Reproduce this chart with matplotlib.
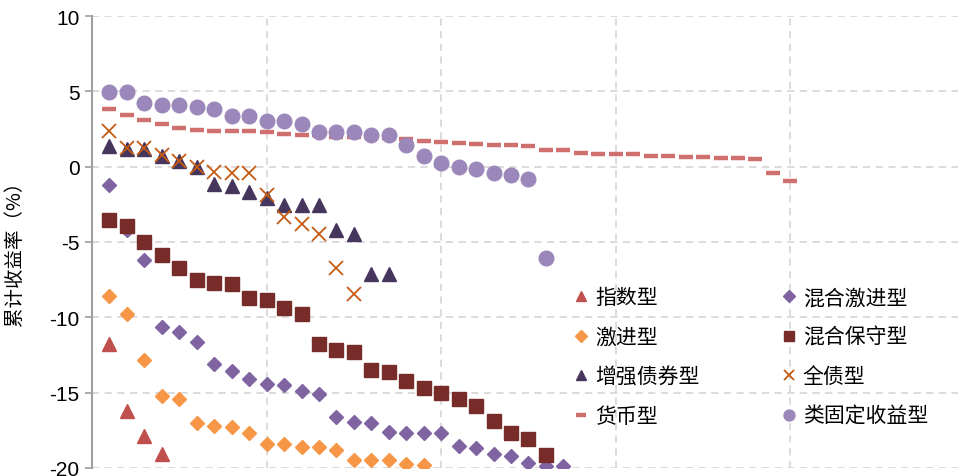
import matplotlib
matplotlib.use('Agg')
from matplotlib import pyplot as plt

plt.rcParams['font.family'] = ['Noto Sans CJK SC', 'DejaVu Sans']

# cumulative return (%) of each fund, ranked within its type
zhishu = [-11.75, -16.2, -17.9, -19.1]
hunhe_jj = [-1.2, -4.2, -6.2, -10.65, -11.0, -11.65, -13.1, -13.55, -14.1, -14.45,
            -14.5, -14.9, -15.1, -16.6, -16.95, -17.0, -17.6, -17.65, -17.65, -17.7,
            -18.55, -18.7, -19.05, -19.2, -19.7, -19.9, -19.9]
jijin = [-8.6, -9.8, -12.85, -15.2, -15.4, -17.0, -17.2, -17.3, -17.7, -18.4,
         -18.4, -18.6, -18.6, -18.8, -19.5, -19.5, -19.45, -19.75, -19.8]
hunhe_bs = [-3.55, -3.95, -5.0, -5.85, -6.7, -7.5, -7.75, -7.8, -8.7, -8.85,
            -9.4, -9.8, -11.75, -12.2, -12.3, -13.5, -13.6, -14.2, -14.7, -15.05,
            -15.45, -15.9, -16.9, -17.7, -18.05, -19.15]
zengqiang = [1.4, 1.15, 1.15, 0.7, 0.4, 0.0, -1.15, -1.25, -1.65, -2.1,
             -2.55, -2.55, -2.55, -4.2, -4.5, -7.1, -7.1]
quanzhai = [2.35, 1.25, 1.25, 0.8, 0.4, 0.0, -0.35, -0.4, -0.4, -1.85,
            -3.35, -3.8, -4.5, -6.7, -8.45]
huobi = [3.8, 3.4, 3.1, 2.85, 2.55, 2.45, 2.35, 2.35, 2.35, 2.3,
         2.2, 2.1, 2.1, 2.0, 1.97, 1.95, 1.9, 1.86, 1.68, 1.61,
         1.57, 1.53, 1.46, 1.46, 1.39, 1.13, 1.08, 0.88, 0.86, 0.86,
         0.84, 0.74, 0.69, 0.66, 0.64, 0.57, 0.57, 0.49, -0.42, -0.97]
leigu = [4.95, 4.95, 4.25, 4.1, 4.07, 3.95, 3.85, 3.36, 3.36, 3.05,
         3.05, 2.8, 2.3, 2.3, 2.3, 2.12, 2.08, 1.41, 0.73, 0.22,
         -0.03, -0.16, -0.42, -0.52, -0.83, -6.03]

yticks = [10, 5, 0, -5, -10, -15, -20]

series = [
    ('指数型', zhishu, '^', 10.5, '#C0504D', 1),
    ('混合激进型', hunhe_jj, 'D', 7.5, '#8064A2', 1),
    ('激进型', jijin, 'D', 7.5, '#F79646', 1),
    ('混合保守型', hunhe_bs, 's', 10, '#772C2A', 1),
    ('增强债券型', zengqiang, '^', 10.5, '#46365E', 1),
    ('全债型', quanzhai, 'x', 9.5, '#C55A11', 1.3),
    ('货币型', huobi, '_', 10.5, '#D0706E', 3.2),
    ('类固定收益型', leigu, 'o', 10.5, '#9B87B9', 1),
]

fig = plt.figure(figsize=(9.58, 4.77), dpi=100)
ax = fig.add_axes([92 / 958, 1 - 469 / 477, 1 - 92 / 958, 452 / 477])

handles = []
for name, vals, mk, ms, col, mew in series:
    xs = list(range(1, len(vals) + 1))
    h, = ax.plot(xs, vals, linestyle='none', marker=mk, markersize=ms, color=col,
                 markeredgecolor=col, markeredgewidth=mew, label=name, zorder=3)
    handles.append(h)

ax.set_xlim(0, 49.6)
ax.set_ylim(-20, 10)
ax.set_yticks(yticks)
ax.set_yticklabels([str(t) for t in yticks], family='Liberation Sans', fontsize=15)
ax.set_xticks([10, 20, 30, 40])
ax.tick_params(axis='x', length=0, labelbottom=False)
ax.tick_params(axis='y', length=5, width=1.2, color='#A0A0A0', pad=4)

ax.grid(True, color='#D9D9D9', linestyle=(0, (4, 3)), linewidth=1.3, zorder=0)
ax.set_axisbelow(True)
for s in ['top', 'right', 'bottom']:
    ax.spines[s].set_visible(False)
ax.spines['left'].set_color('#A0A0A0')
ax.spines['left'].set_linewidth(1.5)

ax.set_ylabel('累计收益率（%）', fontsize=14)
ax.yaxis.set_label_coords(-0.077, 0.487)

# legend filled row by row like the original
order = [0, 2, 4, 6, 1, 3, 5, 7]
ax.legend([handles[i] for i in order], [series[i][0] for i in order],
          ncol=2, frameon=False, fontsize=15, loc='upper left',
          bbox_to_anchor=(563 / 958, 1 - 277 / 477), bbox_transform=fig.transFigure,
          borderpad=0, handlelength=0.75, handletextpad=0.3, columnspacing=3.9,
          labelspacing=0.84, markerscale=0.75)

plt.savefig('out.png')
